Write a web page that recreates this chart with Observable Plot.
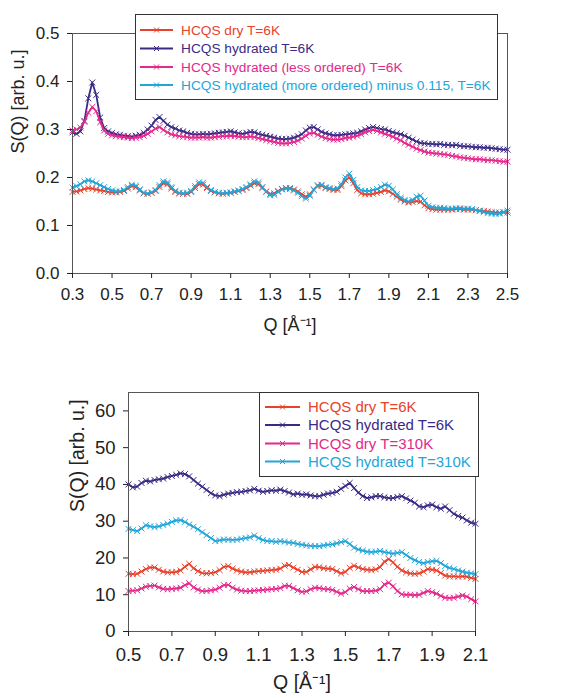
<!DOCTYPE html>
<html><head><meta charset="utf-8">
<script src="https://cdn.jsdelivr.net/npm/d3@7"></script>
<script src="https://cdn.jsdelivr.net/npm/@observablehq/plot@0.6"></script>
<style>
body{margin:0;background:#fff;font-family:"Liberation Sans",Arial,sans-serif;}
#wrap{position:relative;width:571px;height:698px;overflow:hidden;background:#fff}
#top,#bot,.leg{position:absolute}
#top{left:0;top:0}#bot{left:0;top:360px}
</style></head><body>
<div id="wrap"><div id="top"></div><div id="bot"></div><div id="legTop" class="leg"></div><div id="legBot" class="leg"></div></div>
<script>
// ---------- Top panel data ----------
const topQ = [
0.30,0.32,0.34,0.36,0.38,0.40,0.42,0.44,0.46,0.48,
0.50,0.52,0.54,0.56,0.58,0.60,0.62,0.64,0.66,0.68,
0.70,0.72,0.74,0.76,0.78,0.80,0.82,0.84,0.86,0.88,
0.90,0.92,0.94,0.96,0.98,1.00,1.02,1.04,1.06,1.08,
1.10,1.12,1.14,1.16,1.18,1.20,1.22,1.24,1.26,1.28,
1.30,1.32,1.34,1.36,1.38,1.40,1.42,1.44,1.46,1.48,
1.50,1.52,1.54,1.56,1.58,1.60,1.62,1.64,1.66,1.68,
1.70,1.72,1.74,1.76,1.78,1.80,1.82,1.84,1.86,1.88,
1.90,1.92,1.94,1.96,1.98,2.00,2.02,2.04,2.06,2.08,
2.10,2.12,2.14,2.16,2.18,2.20,2.22,2.24,2.26,2.28,
2.30,2.32,2.34,2.36,2.38,2.40,2.42,2.44,2.46,2.48,
2.50];
const topDry6K = [
0.170,0.171,0.173,0.176,0.178,0.177,0.175,0.173,0.172,0.170,
0.169,0.169,0.170,0.172,0.177,0.182,0.180,0.173,0.167,0.166,
0.168,0.172,0.180,0.188,0.186,0.177,0.170,0.167,0.166,0.166,
0.170,0.178,0.186,0.185,0.178,0.172,0.169,0.167,0.166,0.167,
0.168,0.170,0.172,0.174,0.178,0.183,0.188,0.186,0.178,0.171,
0.166,0.167,0.172,0.176,0.178,0.178,0.175,0.171,0.165,0.160,
0.165,0.175,0.182,0.183,0.178,0.176,0.174,0.174,0.182,0.194,
0.200,0.188,0.174,0.167,0.165,0.165,0.166,0.168,0.170,0.173,
0.171,0.166,0.160,0.154,0.150,0.148,0.149,0.151,0.150,0.142,
0.136,0.134,0.133,0.133,0.133,0.133,0.133,0.134,0.134,0.133,
0.133,0.133,0.132,0.131,0.130,0.129,0.128,0.127,0.127,0.127,
0.127];
const topHyd6K = [
0.294,0.291,0.296,0.318,0.365,0.398,0.372,0.325,0.303,0.296,
0.293,0.290,0.289,0.287,0.286,0.285,0.287,0.289,0.293,0.300,
0.308,0.320,0.326,0.318,0.310,0.305,0.302,0.298,0.296,0.293,
0.291,0.290,0.290,0.291,0.290,0.291,0.292,0.293,0.294,0.295,
0.296,0.294,0.292,0.291,0.293,0.295,0.294,0.291,0.289,0.287,
0.285,0.283,0.281,0.280,0.280,0.281,0.283,0.286,0.290,0.298,
0.304,0.305,0.300,0.295,0.292,0.290,0.288,0.288,0.289,0.290,
0.291,0.292,0.293,0.296,0.300,0.303,0.305,0.303,0.301,0.300,
0.297,0.294,0.292,0.290,0.287,0.283,0.279,0.275,0.272,0.271,
0.270,0.270,0.269,0.270,0.268,0.268,0.267,0.268,0.266,0.265,
0.265,0.264,0.263,0.263,0.262,0.262,0.261,0.260,0.259,0.258,
0.258];
const topHydLess = [
0.298,0.300,0.304,0.316,0.335,0.347,0.338,0.315,0.298,0.291,
0.288,0.286,0.285,0.284,0.283,0.282,0.283,0.284,0.287,0.291,
0.296,0.302,0.305,0.299,0.294,0.290,0.288,0.286,0.285,0.284,
0.283,0.283,0.283,0.284,0.283,0.283,0.284,0.285,0.286,0.286,
0.287,0.286,0.285,0.284,0.284,0.285,0.284,0.282,0.280,0.278,
0.276,0.274,0.272,0.271,0.271,0.272,0.274,0.277,0.281,0.287,
0.292,0.293,0.289,0.285,0.282,0.280,0.279,0.279,0.280,0.282,
0.283,0.285,0.287,0.290,0.294,0.297,0.299,0.297,0.294,0.291,
0.288,0.285,0.281,0.277,0.272,0.268,0.264,0.260,0.257,0.254,
0.252,0.251,0.250,0.249,0.248,0.247,0.245,0.244,0.242,0.241,
0.240,0.239,0.238,0.238,0.237,0.236,0.236,0.235,0.234,0.233,
0.233];
const topHydMore = [
0.179,0.182,0.186,0.192,0.194,0.192,0.188,0.184,0.180,0.176,
0.173,0.171,0.171,0.174,0.180,0.185,0.183,0.175,0.168,0.167,
0.169,0.174,0.184,0.192,0.190,0.180,0.172,0.168,0.167,0.168,
0.172,0.182,0.190,0.189,0.180,0.174,0.170,0.168,0.167,0.168,
0.169,0.171,0.173,0.176,0.180,0.186,0.192,0.190,0.180,0.170,
0.163,0.164,0.170,0.175,0.177,0.176,0.173,0.168,0.161,0.156,
0.162,0.174,0.184,0.185,0.180,0.178,0.176,0.177,0.186,0.200,
0.208,0.195,0.180,0.173,0.172,0.172,0.174,0.176,0.180,0.185,
0.183,0.175,0.165,0.158,0.153,0.150,0.153,0.160,0.162,0.152,
0.141,0.138,0.137,0.137,0.136,0.135,0.135,0.136,0.136,0.135,
0.135,0.134,0.132,0.130,0.128,0.126,0.125,0.124,0.125,0.128,
0.131];
const topNames = ["HCQS dry T=6K","HCQS hydrated T=6K","HCQS hydrated (less ordered) T=6K","HCQS hydrated (more ordered) minus 0.115, T=6K"];
const topXTicks = [0.3,0.5,0.7,0.9,1.1,1.3,1.5,1.7,1.9,2.1,2.3,2.5];
const topYTicks = [0,0.1,0.2,0.3,0.4,0.5];

// ---------- Bottom panel data ----------
const botQ = [
0.50,0.52,0.54,0.56,0.58,0.60,0.62,0.64,0.66,0.68,
0.70,0.72,0.74,0.76,0.78,0.80,0.82,0.84,0.86,0.88,
0.90,0.92,0.94,0.96,0.98,1.00,1.02,1.04,1.06,1.08,
1.10,1.12,1.14,1.16,1.18,1.20,1.22,1.24,1.26,1.28,
1.30,1.32,1.34,1.36,1.38,1.40,1.42,1.44,1.46,1.48,
1.50,1.52,1.54,1.56,1.58,1.60,1.62,1.64,1.66,1.68,
1.70,1.72,1.74,1.76,1.78,1.80,1.82,1.84,1.86,1.88,
1.90,1.92,1.94,1.96,1.98,2.00,2.02,2.04,2.06,2.08,
2.10];
const botDry6K = [
15.7,15.6,15.7,16.3,17.0,17.4,17.4,16.8,16.3,16.1,
16.1,16.2,16.6,17.6,18.4,17.2,16.4,15.9,15.8,15.9,
16.1,16.7,17.6,17.8,17.1,16.6,16.3,16.1,16.1,16.3,
16.4,16.5,16.6,16.7,16.8,17.1,17.9,18.1,17.4,16.8,
16.2,16.2,16.9,17.6,17.5,17.2,17.1,17.0,16.4,15.8,
16.2,17.3,17.9,17.4,17.0,16.8,16.7,16.9,17.5,19.0,
19.7,18.8,17.6,16.6,16.1,15.8,15.7,15.8,16.3,17.0,
16.8,16.6,15.9,15.2,15.0,15.0,14.9,15.0,14.9,14.6,
14.3];
const botHyd6K = [
40.0,39.2,39.4,40.4,41.0,40.8,41.2,41.4,41.6,42.0,
42.3,42.6,43.0,42.8,42.2,41.2,40.2,39.4,38.5,37.6,
37.0,36.8,37.2,37.5,37.7,37.9,38.0,38.2,38.4,38.8,
38.3,38.0,38.2,38.4,38.3,38.6,38.2,37.8,37.3,37.5,
37.2,37.3,37.0,36.8,36.8,37.2,37.5,37.7,38.0,38.8,
39.6,40.4,39.0,37.8,36.8,36.3,36.5,36.8,36.8,36.5,
36.3,36.3,36.6,36.8,36.2,35.6,35.0,34.0,33.8,34.3,
34.5,33.8,33.4,34.0,33.0,32.0,31.4,31.0,30.2,29.6,
29.3];
const botDry310K = [
11.0,11.1,11.2,11.7,12.2,12.4,12.5,12.0,11.6,11.5,
11.6,11.7,11.9,12.6,13.1,12.0,11.4,11.0,11.0,11.2,
11.4,11.9,12.6,12.7,11.9,11.4,11.1,11.0,11.0,11.1,
11.2,11.3,11.4,11.5,11.6,11.8,12.4,12.4,11.8,11.2,
10.8,10.9,11.5,11.9,11.8,11.6,11.5,11.3,10.8,10.3,
10.7,11.7,12.1,11.5,11.0,11.0,11.0,11.1,11.5,12.8,
13.3,12.3,11.0,10.1,10.0,10.0,9.9,10.0,10.5,11.0,
10.7,10.3,9.7,9.2,9.1,9.2,9.5,9.8,9.5,8.8,
8.2];
const botHyd310K = [
27.9,27.6,27.3,28.0,28.9,28.6,28.4,28.6,29.0,29.3,
29.8,30.2,30.3,29.8,29.1,28.5,27.8,27.0,26.2,25.4,
24.6,24.8,25.0,25.0,24.9,25.0,25.2,25.4,25.6,26.1,
25.4,24.9,24.6,24.6,24.4,24.6,24.4,24.2,24.1,23.8,
23.6,23.4,23.3,23.2,23.2,23.4,23.6,23.7,24.0,24.3,
24.6,23.8,22.8,22.3,22.0,21.7,21.6,21.7,21.9,21.6,
21.4,21.2,21.4,21.6,20.8,20.0,19.4,18.9,18.6,18.9,
19.1,19.2,18.6,17.8,17.3,17.0,16.6,16.3,16.0,15.8,
15.6];
const botNames = ["HCQS dry T=6K","HCQS hydrated T=6K","HCQS dry T=310K","HCQS hydrated T=310K"];
const botXTicks = [0.5,0.7,0.9,1.1,1.3,1.5,1.7,1.9,2.1];
const botYTicks = [0,10,20,30,40,50,60];

const colors = ["#e8412c","#3a2a86","#e4288c","#22a6d9"];
const yLabel = "S(Q) [arb. u.]";
const xLabel = "Q [Å⁻¹]";
const FONT = "'Liberation Sans', Arial, sans-serif";

function seriesMarks(q, arrays) {
  const marks = [];
  arrays.forEach((arr, i) => {
    const rows = q.map((x, j) => ({q: x, v: arr[j]}));
    marks.push(Plot.line(rows, {x: "q", y: "v", stroke: colors[i], strokeWidth: 1.8}));
    marks.push(Plot.dot(rows, {x: "q", y: "v", stroke: colors[i], symbol: "times", r: 2.8, strokeWidth: 1}));
  });
  return marks;
}

const topPlot = Plot.plot({
  width: 571, height: 345,
  marginLeft: 72, marginRight: 64, marginTop: 33, marginBottom: 72,
  style: {fontFamily: FONT, background: "#fff", color: "#222"},
  x: {domain: [0.3, 2.5]},
  y: {domain: [0, 0.5]},
  marks: [
    ...seriesMarks(topQ, [topDry6K, topHyd6K, topHydLess, topHydMore]),
    Plot.frame({stroke: "#555", strokeWidth: 1}),
    Plot.axisX({ticks: topXTicks, tickFormat: d => d.toFixed(1), tickSize: 5, tickPadding: 9, fontSize: 17, label: null, color: "#222"}),
    Plot.axisY({ticks: topYTicks, tickFormat: d => d.toFixed(1), tickSize: 5, tickPadding: 8, fontSize: 17, label: null, color: "#222"}),
    Plot.text([yLabel], {frameAnchor: "left", text: d => d, rotate: -90, dx: -54, fontSize: 18, fill: "#222"}),
    Plot.text([xLabel], {frameAnchor: "bottom", text: d => d, dy: 57, fontSize: 18, fill: "#222"})
  ]
});
document.getElementById("top").appendChild(topPlot);

const botPlot = Plot.plot({
  width: 571, height: 338,
  marginLeft: 128, marginRight: 96, marginTop: 32, marginBottom: 67,
  style: {fontFamily: FONT, background: "#fff", color: "#222"},
  x: {domain: [0.5, 2.1]},
  y: {domain: [0, 65]},
  marks: [
    ...seriesMarks(botQ, [botDry6K, botHyd6K, botDry310K, botHyd310K]),
    Plot.frame({stroke: "#555", strokeWidth: 1}),
    Plot.axisX({ticks: botXTicks, tickFormat: d => d.toFixed(1), tickSize: 5, tickPadding: 11, fontSize: 18.5, label: null, color: "#222"}),
    Plot.axisY({ticks: botYTicks, tickFormat: d => String(d), tickSize: 5, tickPadding: 8, fontSize: 18.5, label: null, color: "#222"}),
    Plot.text([yLabel], {frameAnchor: "left", text: d => d, rotate: -90, dx: -51, fontSize: 19.5, fill: "#222"}),
    Plot.text([xLabel], {frameAnchor: "bottom", text: d => d, dy: 57, fontSize: 19.5, fill: "#222"})
  ]
});
document.getElementById("bot").appendChild(botPlot);

function drawLegend(id, o, names) {
  const div = document.getElementById(id);
  div.style.left = o.left + "px"; div.style.top = o.top + "px";
  const svg = d3.select(div).append("svg").attr("width", o.w).attr("height", o.h).style("display", "block");
  svg.append("rect").attr("x", 0.5).attr("y", 0.5).attr("width", o.w - 1).attr("height", o.h - 1)
    .attr("fill", "#fff").attr("stroke", "#333").attr("stroke-width", 1);
  names.forEach((n, i) => {
    const y = o.rows[i], c = colors[i], cx = (o.x0 + o.x1) / 2;
    svg.append("line").attr("x1", o.x0).attr("x2", o.x1).attr("y1", y).attr("y2", y).attr("stroke", c).attr("stroke-width", 2.2);
    svg.append("path").attr("d", `M${cx-2.5},${y-2.5}L${cx+2.5},${y+2.5}M${cx-2.5},${y+2.5}L${cx+2.5},${y-2.5}`).attr("stroke", c).attr("stroke-width", 1);
    svg.append("text").attr("x", o.tx).attr("y", y).attr("dy", "0.35em").attr("fill", c)
      .attr("font-family", FONT).attr("font-size", o.fs).text(n);
  });
}
drawLegend("legTop", {left: 135, top: 14, w: 363, h: 86, rows: [16, 34.5, 53, 71], x0: 5, x1: 38, tx: 46, fs: 13.7}, topNames);
drawLegend("legBot", {left: 259, top: 392, w: 220, h: 85, rows: [15, 33, 51.5, 69.5], x0: 6, x1: 41, tx: 49, fs: 15}, botNames);
</script>
</body></html>
